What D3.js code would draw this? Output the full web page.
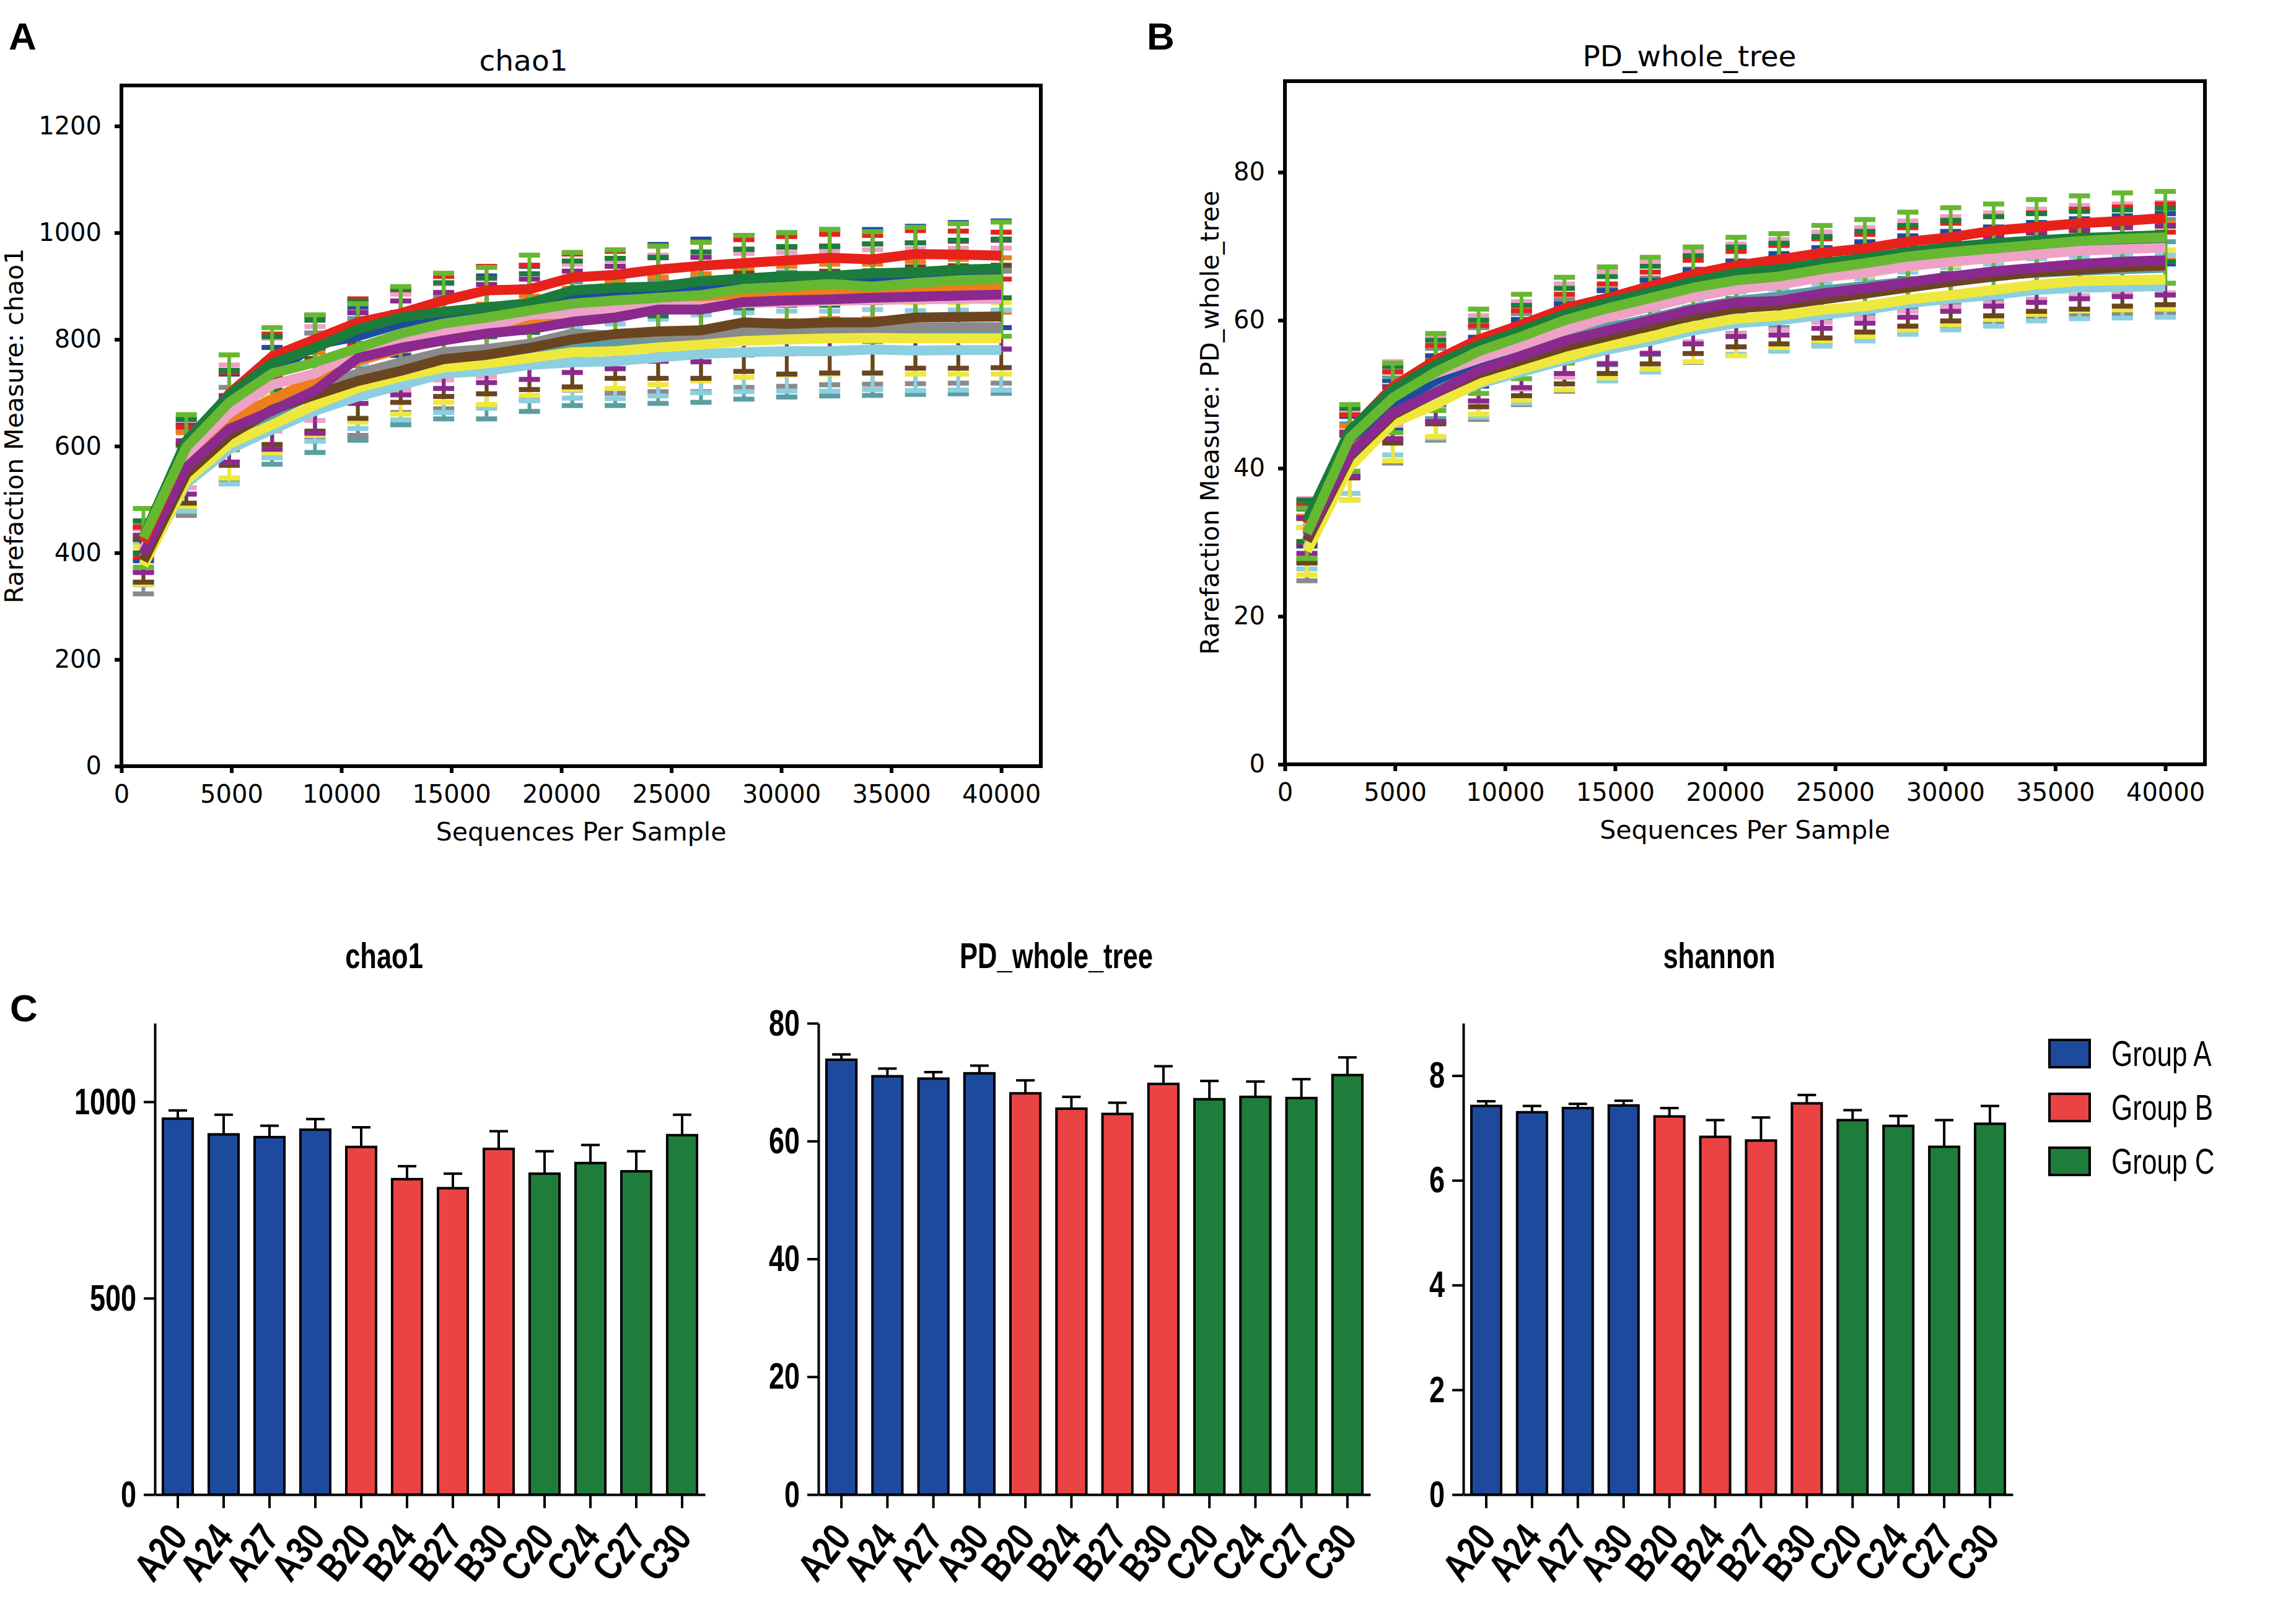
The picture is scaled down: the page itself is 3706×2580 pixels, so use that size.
<!DOCTYPE html>
<html>
<head>
<meta charset="utf-8">
<script src="https://cdn.jsdelivr.net/npm/d3@7"></script>
<style>
  body { margin: 0; background: #fff; }
</style>
</head>
<body>
<script>
// rarefaction depths (sequences per sample)
var depths = [1000, 2950, 4900, 6850, 8800, 10750, 12700, 14650, 16600, 18550, 20500,
  22450, 24400, 26350, 28300, 30250, 32200, 34150, 36100, 38050, 40000];
var xTicks = [0, 5000, 10000, 15000, 20000, 25000, 30000, 35000, 40000];
var chaoTicks = [0, 200, 400, 600, 800, 1000, 1200];
var pdTicks = [0, 20, 40, 60, 80];

var sampleIds = ['A20', 'A24', 'A27', 'A30', 'B20', 'B24', 'B27', 'B30', 'C20', 'C24', 'C27', 'C30'];
var sampleColors = ['#e8211b', '#1c4b9f', '#ef7d1a', '#1b7c3c', '#8b298e', '#efe83c',
  '#8bcfe0', '#eda2c6', '#5b9ea1', '#6a4520', '#8a8a8a', '#66b830'];
// which curve sits on top of which (first = bottom)
var drawOrder = [8, 10, 2, 1, 6, 5, 9, 7, 4, 0, 3, 11];

// chao1 rarefaction means, one row per sample
var chao1Means = [
  [420,600,698,768,800,832,849,873,892,894,916,921,931,938,943,948,953,950,960,959,957],
  [415,600,690,735,790,806,830,841,849,862,881,885,893,900,905,908,912,910,915,920,922],
  [400,585,650,688,725,760,782,800,815,830,845,858,866,872,880,886,890,890,895,899,902],
  [430,610,696,755,784,819,841,852,860,868,892,897,899,909,914,919,919,924,926,931,933],
  [398,560,632,666,704,765,784,798,811,819,833,841,856,856,870,873,875,878,880,882,884],
  [376,535,604,640,677,709,730,747,755,765,776,778,785,790,797,800,802,803,802,802,802],
  [380,530,594,631,666,693,714,736,741,752,757,759,766,773,776,778,778,781,779,780,780],
  [405,585,661,715,736,779,795,814,822,846,849,856,866,862,868,870,872,874,875,876,876],
  [385,540,612,660,700,725,745,765,772,782,792,794,798,800,806,809,811,812,814,815,816],
  [385,548,620,668,696,722,741,763,771,784,800,810,815,817,832,829,832,832,841,842,843],
  [390,550,625,670,712,736,757,776,782,792,811,807,807,807,815,817,820,821,822,823,823],
  [428,598,682,736,757,784,811,830,841,854,867,873,878,883,895,899,904,899,906,911,913]
];
// chao1 standard deviations
var chao1Sd = [
  [28,36,40,42,44,44,44,45,45,45,44,44,44,45,44,45,44,45,44,44,44],
  [30,40,45,50,55,55,60,65,70,75,80,82,85,88,90,92,94,96,97,99,100],
  [32,40,45,48,50,50,51,51,51,51,51,51,51,51,51,51,51,51,51,51,51],
  [30,40,46,50,52,53,54,54,55,55,55,55,55,55,55,55,55,55,55,55,55],
  [35,50,62,72,80,85,88,90,92,94,95,96,97,98,99,100,100,101,101,102,102],
  [35,48,64,53,57,64,70,65,77,70,70,70,70,68,68,67,67,67,67,67,67],
  [40,52,65,53,57,60,65,73,70,67,67,70,72,73,74,75,75,75,75,75,75],
  [40,63,91,87,88,88,90,90,92,93,92,91,92,92,93,93,94,94,95,95,95],
  [42,60,75,94,112,114,105,114,121,117,116,118,118,118,118,117,117,117,117,117,117],
  [40,55,56,65,68,70,59,70,73,78,89,83,88,90,92,94,95,95,95,96,96],
  [67,80,85,90,100,116,94,106,106,106,106,108,105,105,105,105,105,105,105,105,105],
  [55,61,89,86,89,83,88,94,94,104,96,95,97,99,100,101,102,103,104,106,107]
];

// PD_whole_tree rarefaction means
var pdMeans = [
  [32.5,45.0,51.0,54.6,57.4,59.4,61.6,63.0,64.6,66.2,67.4,68.2,69.1,69.7,70.6,71.2,72.1,72.6,73.1,73.4,73.8],
  [32.0,44.0,48.5,51.9,54.4,56.8,58.8,60.6,62.0,63.4,64.6,65.6,66.4,67.2,68.0,68.6,69.2,69.8,70.3,70.7,71.0],
  [31.5,43.5,48.8,52.2,54.6,56.8,58.6,60.4,61.8,63.2,64.2,65.2,66.0,66.8,67.6,68.3,68.9,69.4,69.9,70.3,70.6],
  [32.9,45.1,50.6,54.0,56.6,58.6,60.8,62.4,63.8,65.2,66.4,66.9,67.7,68.4,69.2,69.9,70.4,70.8,71.1,71.3,71.5],
  [30.9,41.9,47.5,50.2,53.2,55.2,57.2,58.6,60.0,61.4,62.4,62.6,63.6,64.3,65.1,65.9,66.6,67.1,67.6,67.9,68.1],
  [28.8,40.2,46.1,48.6,51.6,53.4,55.0,56.6,57.8,59.2,60.2,60.6,61.4,61.9,62.8,63.4,64.1,64.8,65.3,65.4,65.5],
  [29.2,40.5,46.4,48.9,51.4,53.0,54.6,56.0,57.2,58.6,59.6,60.0,60.7,61.4,62.3,62.9,63.4,64.1,64.4,64.5,64.6],
  [32.0,44.5,50.1,52.8,54.8,56.6,58.6,60.4,61.8,63.2,64.2,64.8,65.8,66.4,67.3,67.9,68.4,68.9,69.4,69.6,69.8],
  [30.5,42.5,48.0,51.5,54.0,55.8,57.5,59.0,60.2,61.6,62.6,63.2,64.0,64.6,65.2,65.7,66.1,66.4,66.7,66.9,67.1],
  [30.2,41.6,47.2,50.2,52.8,54.6,56.4,57.8,59.2,60.6,61.6,62.0,62.8,63.6,64.4,65.2,65.9,66.5,66.8,67.2,67.4],
  [30.0,41.5,47.0,50.0,52.8,54.8,56.6,58.0,59.4,60.6,61.6,62.2,63.0,63.8,64.6,65.4,66.0,66.5,66.9,67.1,67.3],
  [31.2,44.1,49.5,53.0,55.8,57.8,60.0,61.6,63.0,64.4,65.4,65.9,66.9,67.7,68.6,69.2,69.7,70.2,70.7,71.0,71.2]
];
var pdSd = [
  [2.5,2.2,2.0,2.0,1.9,1.9,1.9,1.9,1.9,1.9,1.9,1.9,1.9,1.9,1.9,1.9,1.9,1.9,1.9,1.9,1.9],
  [2.5,3.0,3.2,3.3,3.3,3.3,3.4,3.4,3.4,3.4,3.4,3.4,3.4,3.4,3.4,3.4,3.4,3.4,3.4,3.4,3.4],
  [2.0,2.2,2.3,2.4,2.4,2.5,2.5,2.5,2.5,2.5,2.5,2.5,2.5,2.5,2.5,2.5,2.5,2.5,2.5,2.5,2.5],
  [2.8,3.0,3.2,3.3,3.4,3.4,3.5,3.5,3.5,3.5,3.5,3.5,3.6,3.6,3.6,3.6,3.6,3.6,3.6,3.6,3.6],
  [2.4,3.0,3.5,3.9,4.1,4.3,4.4,4.5,4.5,4.6,4.6,4.6,4.7,4.7,4.7,4.7,4.7,4.7,4.7,4.7,4.7],
  [3.2,4.5,5.1,4.3,4.3,4.2,4.4,4.4,4.4,4.8,5.0,4.3,4.2,4.1,4.1,4.0,4.0,4.0,4.0,4.0,4.0],
  [2.8,3.9,4.6,4.8,4.5,4.2,3.2,4.2,4.2,4.2,4.2,4.2,4.2,4.2,4.2,4.2,4.2,4.2,4.2,4.2,4.2],
  [3.9,3.2,4.3,4.8,5.8,5.9,6.3,6.2,6.2,6.1,6.1,6.1,6.1,6.1,6.1,6.1,6.1,6.1,6.1,6.1,6.1],
  [3.0,3.5,4.2,4.8,5.0,5.1,5.1,5.0,4.8,4.6,4.4,4.2,4.0,3.9,3.8,3.7,3.6,3.6,3.5,3.5,3.5],
  [3.0,2.9,3.8,4.2,4.5,4.8,5.0,5.0,5.1,5.1,5.2,5.2,5.2,5.2,5.2,5.3,5.3,5.3,5.3,5.3,5.3],
  [5.2,5.8,6.3,6.2,6.2,6.2,6.2,6.2,6.3,6.3,6.3,6.3,6.3,6.3,6.3,6.3,6.3,6.3,6.3,6.3,6.3],
  [3.4,4.5,4.7,5.2,5.7,5.7,5.8,5.6,5.5,5.5,5.8,5.8,5.9,5.9,6.0,6.0,6.0,6.1,6.1,6.2,6.2]
];

// panel C: group means and error (upper only)
var groupNames = ['Group A', 'Group B', 'Group C'];
var groupColors = ['#1e4a9d', '#e94343', '#1e7d3b'];
var barChao1 = [957, 917, 910, 929, 885, 803, 780, 880, 817, 844, 823, 915];
var barChao1Err = [21, 50, 29, 27, 50, 33, 37, 45, 57, 46, 51, 52];
var barPd = [73.8, 71.0, 70.6, 71.5, 68.1, 65.5, 64.6, 69.7, 67.1, 67.5, 67.3, 71.2];
var barPdErr = [0.9, 1.3, 1.1, 1.3, 2.2, 2.0, 1.9, 3.0, 3.1, 2.6, 3.2, 3.0];
var barShannon = [7.42, 7.30, 7.38, 7.43, 7.22, 6.83, 6.76, 7.47, 7.15, 7.04, 6.64, 7.08];
var barShannonErr = [0.09, 0.12, 0.08, 0.09, 0.16, 0.32, 0.44, 0.16, 0.19, 0.19, 0.51, 0.34];
var chaoBarTicks = [0, 500, 1000];
var pdBarTicks = [0, 20, 40, 60, 80];
var shannonBarTicks = [0, 2, 4, 6, 8];

var plain = d3.format('d');

var svg = d3.select('body').append('svg')
  .attr('width', 3706)
  .attr('height', 2580)
  .style('background', '#fff');

var panelLetter = function(txt, x, y){
  svg.append('text')
    .attr('x', x).attr('y', y)
    .attr('font-family', 'Liberation Sans, Arial, sans-serif')
    .attr('font-weight', 'bold')
    .attr('font-size', 62)
    .text(txt);
};

var drawRarefaction = function(cfg){
  var x = d3.scaleLinear().domain([0, 41800]).range([cfg.left, cfg.right]);
  var y = d3.scaleLinear().domain([0, cfg.yMax]).range([cfg.bottom, cfg.top]);

  // error bars under the curves
  var eb = svg.append('g');
  drawOrder.forEach(function(i){
    for(var j=0; j < depths.length; j++){
      var m = cfg.means[i][j], s = cfg.sds[i][j];
      var cx = x(depths[j]);
      eb.append('line')
        .attr('x1', cx).attr('x2', cx)
        .attr('y1', y(m - s)).attr('y2', y(m + s))
        .attr('stroke', sampleColors[i])
        .attr('stroke-width', 6);
      [m - s, m + s].forEach(function(v){
        eb.append('rect')
          .attr('x', cx - 17).attr('y', y(v) - 4)
          .attr('width', 34).attr('height', 8)
          .attr('fill', sampleColors[i]);
      });
    }
  });

  var line = d3.line()
    .x(function(d, k){ return x(depths[k]); })
    .y(function(d){ return y(d); });

  svg.append('g').selectAll('path')
    .data(drawOrder)
    .enter().append('path')
    .attr('d', function(i){ return line(cfg.means[i]); })
    .attr('fill', 'none')
    .attr('stroke', function(i){ return sampleColors[i]; })
    .attr('stroke-width', 16)
    .attr('stroke-linejoin', 'round');

  var gx = svg.append('g')
    .attr('transform', 'translate(0,' + cfg.bottom + ')')
    .call(d3.axisBottom(x).tickValues(xTicks).tickFormat(plain)
      .tickSizeInner(11).tickSizeOuter(0).tickPadding(20));
  var gy = svg.append('g')
    .attr('transform', 'translate(' + cfg.left + ',0)')
    .call(d3.axisLeft(y).tickValues(cfg.yTicks).tickFormat(plain)
      .tickSizeInner(11).tickSizeOuter(0).tickPadding(21));
  [gx, gy].forEach(function(g){
    g.select('.domain').remove();
    g.attr('font-size', 40).attr('font-family', 'DejaVu Sans, sans-serif');
    g.selectAll('line').attr('stroke', '#000').attr('stroke-width', 6);
    g.selectAll('text').attr('fill', '#000');
  });

  svg.append('rect')
    .attr('x', cfg.left).attr('y', cfg.top)
    .attr('width', cfg.right - cfg.left).attr('height', cfg.bottom - cfg.top)
    .attr('fill', 'none')
    .attr('stroke', '#000')
    .attr('stroke-width', 6);

  svg.append('text')
    .attr('x', cfg.titleX).attr('y', cfg.top - 24)
    .attr('text-anchor', 'middle')
    .attr('font-family', 'DejaVu Sans, sans-serif')
    .attr('font-size', 47)
    .text(cfg.title);

  svg.append('text')
    .attr('x', (cfg.left + cfg.right) / 2).attr('y', cfg.bottom + 120)
    .attr('text-anchor', 'middle')
    .attr('font-family', 'DejaVu Sans, sans-serif')
    .attr('font-size', 41)
    .text('Sequences Per Sample');

  svg.append('text')
    .attr('transform', 'translate(' + cfg.yLabelX + ',' + (cfg.top + cfg.bottom) / 2 + ') rotate(-90)')
    .attr('text-anchor', 'middle')
    .attr('font-family', 'DejaVu Sans, sans-serif')
    .attr('font-size', 41)
    .text(cfg.yLabel);
};

// panel C uses a narrow bold face
var squeeze = 0.75;
var barBottom = 2413, barTop = 1652;

var drawBars = function(cfg){
  var xb = d3.scaleBand().domain(sampleIds).range([cfg.x0, cfg.x1])
    .paddingInner(0.35).paddingOuter(0.175);
  var y = d3.scaleLinear().domain([0, cfg.yMax]).range([barBottom, barTop]);
  var groupOf = function(id){ return 'ABC'.indexOf(id[0]); };

  svg.append('g').selectAll('rect')
    .data(sampleIds)
    .enter().append('rect')
    .attr('x', function(d){ return xb(d); })
    .attr('width', xb.bandwidth())
    .attr('y', function(d, i){ return y(cfg.values[i]); })
    .attr('height', function(d, i){ return barBottom - y(cfg.values[i]); })
    .attr('fill', function(d){ return groupColors[groupOf(d)]; })
    .attr('stroke', '#000')
    .attr('stroke-width', 4);

  var err = svg.append('g').attr('stroke', '#000').attr('stroke-width', 4);
  sampleIds.forEach(function(d, i){
    var cx = xb(d) + xb.bandwidth() / 2;
    var top = y(cfg.values[i] + cfg.errs[i]);
    err.append('line').attr('x1', cx).attr('x2', cx).attr('y1', y(cfg.values[i])).attr('y2', top);
    err.append('line').attr('x1', cx - 15).attr('x2', cx + 15).attr('y1', top).attr('y2', top);
  });

  var gy = svg.append('g')
    .attr('transform', 'translate(' + cfg.x0 + ',0)')
    .call(d3.axisLeft(y).tickValues(cfg.yTicks).tickFormat(plain)
      .tickSizeInner(18).tickSizeOuter(0).tickPadding(10));
  var gx = svg.append('g')
    .attr('transform', 'translate(0,' + barBottom + ')')
    .call(d3.axisBottom(xb).tickSizeInner(22).tickSizeOuter(0));
  [gx, gy].forEach(function(g){
    g.attr('font-family', 'Liberation Sans, Arial, sans-serif').attr('font-weight', 'bold');
    g.selectAll('line, path').attr('stroke', '#000').attr('stroke-width', 4);
    g.selectAll('text').attr('fill', '#000');
  });
  gy.attr('font-size', 60);
  gy.selectAll('text')
    .attr('x', -30 / squeeze)
    .attr('transform', 'scale(' + squeeze + ',1)');
  gx.attr('font-size', 64);
  gx.selectAll('text')
    .attr('x', null).attr('y', null).attr('dy', null)
    .attr('text-anchor', 'end')
    .attr('transform', 'translate(18,70) rotate(-52) scale(0.8,1)');

  svg.append('text')
    .attr('transform', 'translate(' + cfg.titleX + ',1563) scale(' + squeeze + ',1)')
    .attr('text-anchor', 'middle')
    .attr('font-family', 'Liberation Sans, Arial, sans-serif')
    .attr('font-weight', 'bold')
    .attr('font-size', 58)
    .text(cfg.title);
};

panelLetter('A', 14, 80);
panelLetter('B', 1851, 80);
panelLetter('C', 16, 1649);

drawRarefaction({left: 196, right: 1680, top: 138, bottom: 1237, yMax: 1276,
  yTicks: chaoTicks, means: chao1Means, sds: chao1Sd,
  title: 'chao1', titleX: 845, yLabel: 'Rarefaction Measure: chao1', yLabelX: 37});

drawRarefaction({left: 2074, right: 3559, top: 131, bottom: 1234, yMax: 92.3,
  yTicks: pdTicks, means: pdMeans, sds: pdSd,
  title: 'PD_whole_tree', titleX: 2727, yLabel: 'Rarefaction Measure: PD_whole_tree', yLabelX: 1967});

drawBars({x0: 250, x1: 1138, yMax: 1200, yTicks: chaoBarTicks,
  values: barChao1, errs: barChao1Err, title: 'chao1', titleX: 620});
drawBars({x0: 1321, x1: 2212, yMax: 80, yTicks: pdBarTicks,
  values: barPd, errs: barPdErr, title: 'PD_whole_tree', titleX: 1705});
drawBars({x0: 2362, x1: 3249, yMax: 9, yTicks: shannonBarTicks,
  values: barShannon, errs: barShannonErr, title: 'shannon', titleX: 2775});

// legend
var legend = svg.append('g');
groupNames.forEach(function(name, i){
  var y0 = 1679 + i * 87;
  legend.append('rect')
    .attr('x', 3308).attr('y', y0)
    .attr('width', 65).attr('height', 44)
    .attr('fill', groupColors[i])
    .attr('stroke', '#000')
    .attr('stroke-width', 4);
  legend.append('text')
    .attr('transform', 'translate(3408,' + (y0 + 42) + ') scale(0.76,1)')
    .attr('font-family', 'Liberation Sans, Arial, sans-serif')
    .attr('font-size', 58)
    .text(name);
});
</script>
</body>
</html>
